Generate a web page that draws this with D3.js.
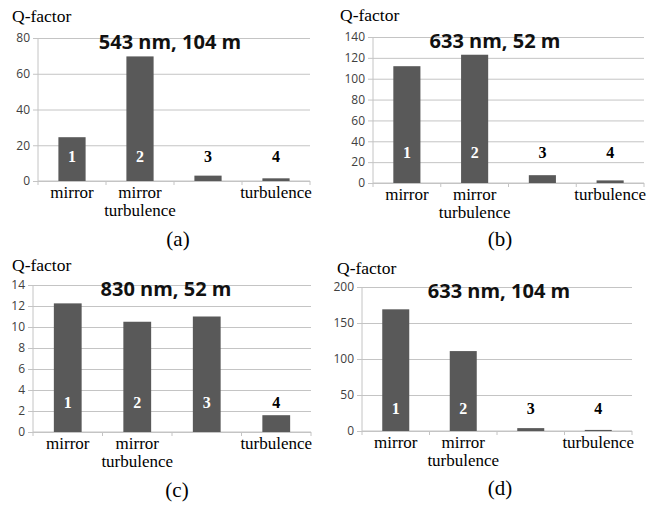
<!DOCTYPE html>
<html>
<head>
<meta charset="utf-8">
<script src="https://cdn.jsdelivr.net/npm/d3@7"></script>
<style>
  html, body { margin: 0; padding: 0; background: #fff; }
  svg { display: block; }
</style>
</head>
<body>
<div id="chart"></div>
<script>
// data
const barNumbers = ['1', '2', '3', '4'];
const categoryLines = [['mirror'], ['mirror', 'turbulence'], [], ['turbulence']];
const panelTitles = ['543 nm, 104 m', '633 nm, 52 m', '830 nm, 52 m', '633 nm, 104 m'];
const panelLetters = ['(a)', '(b)', '(c)', '(d)'];
const qA = [24.5, 69.7, 3, 1.5];
const qB = [112, 123, 7.5, 2.5];
const qC = [12.25, 10.5, 11, 1.6];
const qD = [169, 111, 4, 1.5];
const yMaxes = [80, 140, 14, 200];
const yTickValues = [
  [0, 20, 40, 60, 80],
  [0, 20, 40, 60, 80, 100, 120, 140],
  [0, 2, 4, 6, 8, 10, 12, 14],
  [0, 50, 100, 150, 200]
];

// panel frames (layout only)
const frames = [
  { left: 38, right: 310, top: 38, bottom: 181, titleX: 170, numDy: -19, qx: 12, qDy: -16, letterX: 178, letterY: 246 },
  { left: 373, right: 644, top: 37, bottom: 183, titleX: 495, numDy: -25, qx: 340, qDy: -16, letterX: 500, letterY: 246 },
  { left: 33, right: 311, top: 285, bottom: 432, titleX: 166, numDy: -24, qx: 12, qDy: -14, letterX: 177, letterY: 497 },
  { left: 362, right: 632, top: 287, bottom: 431, titleX: 499, numDy: -17, qx: 337, qDy: -13, letterX: 500, letterY: 495 }
];
const series = [qA, qB, qC, qD];

const width = 654, height = 506;
const svg = d3.select('#chart').append('svg')
  .attr('width', width).attr('height', height);

series.forEach((values, i) => {
  const f = frames[i];
  const g = svg.append('g');

  const x = d3.scaleBand()
    .domain(barNumbers)
    .range([f.left, f.right])
    .paddingInner(0.6)
    .paddingOuter(0.3);

  const y = d3.scaleLinear()
    .domain([0, yMaxes[i]])
    .range([f.bottom, f.top]);

  // gridlines + y ticks
  const yAxis = g.append('g')
    .attr('transform', `translate(${f.left},0)`)
    .call(d3.axisLeft(y).tickValues(yTickValues[i]).tickSize(-(f.right - f.left)).tickPadding(8));
  yAxis.select('.domain').remove();
  yAxis.selectAll('.tick line')
    .attr('stroke', '#c4c4c4')
    .attr('x1', -5)
    .attr('x2', f.right - f.left);
  yAxis.selectAll('.tick text')
    .attr('fill', '#404040')
    .style('font-family', '"Open Sans", sans-serif')
    .style('font-size', '12px');

  // y axis line
  g.append('line')
    .attr('x1', f.left).attr('x2', f.left)
    .attr('y1', f.top).attr('y2', f.bottom)
    .attr('stroke', '#c4c4c4');

  // x axis baseline + boundary ticks
  g.append('line')
    .attr('x1', f.left).attr('x2', f.right)
    .attr('y1', f.bottom).attr('y2', f.bottom)
    .attr('stroke', '#c4c4c4');
  const step = x.step();
  d3.range(barNumbers.length + 1).forEach(k => {
    const xx = f.left + k * step;
    g.append('line')
      .attr('x1', xx).attr('x2', xx)
      .attr('y1', f.bottom).attr('y2', f.bottom + 4)
      .attr('stroke', '#c4c4c4');
  });

  // bars
  g.selectAll('rect.bar')
    .data(values)
    .enter()
    .append('rect')
    .attr('class', 'bar')
    .attr('x', (d, j) => x(barNumbers[j]))
    .attr('width', x.bandwidth())
    .attr('y', d => y(d))
    .attr('height', d => y(0) - y(d))
    .attr('fill', '#595959');

  // bar numbers
  g.selectAll('text.num')
    .data(values)
    .enter()
    .append('text')
    .attr('class', 'num')
    .attr('x', (d, j) => x(barNumbers[j]) + x.bandwidth() / 2)
    .attr('y', f.bottom + f.numDy)
    .attr('text-anchor', 'middle')
    .attr('fill', d => y(d) < f.bottom + f.numDy - 14 ? '#ffffff' : '#000000')
    .style('font-family', '"Liberation Serif", "Times New Roman", serif')
    .style('font-weight', 'bold')
    .style('font-size', '16px')
    .text((d, j) => barNumbers[j]);

  // category labels (wrapped with tspans)
  categoryLines.forEach((lines, j) => {
    if (!lines.length) return;
    const cx = x(barNumbers[j]) + x.bandwidth() / 2;
    const t = g.append('text')
      .attr('x', cx)
      .attr('y', f.bottom + 16.5)
      .attr('text-anchor', 'middle')
      .style('font-family', '"Liberation Serif", "Times New Roman", serif')
      .style('font-size', '17px');
    lines.forEach((line, k) => {
      t.append('tspan')
        .attr('x', cx)
        .attr('dy', k === 0 ? 0 : 18)
        .text(line);
    });
  });

  // chart title
  g.append('text')
    .attr('x', f.titleX)
    .attr('y', f.top + 11)
    .attr('text-anchor', 'middle')
    .style('font-family', '"Open Sans", sans-serif')
    .style('font-weight', 'bold')
    .style('font-size', '20px')
    .attr('fill', '#111')
    .text(panelTitles[i]);

  // y label
  g.append('text')
    .attr('x', f.qx)
    .attr('y', f.top + f.qDy)
    .style('font-family', '"Liberation Serif", "Times New Roman", serif')
    .style('font-size', '17.5px')
    .text('Q-factor');

  // panel letter
  g.append('text')
    .attr('x', f.letterX)
    .attr('y', f.letterY)
    .attr('text-anchor', 'middle')
    .style('font-family', '"Liberation Serif", "Times New Roman", serif')
    .style('font-size', '21px')
    .text(panelLetters[i]);
});
</script>
</body>
</html>
